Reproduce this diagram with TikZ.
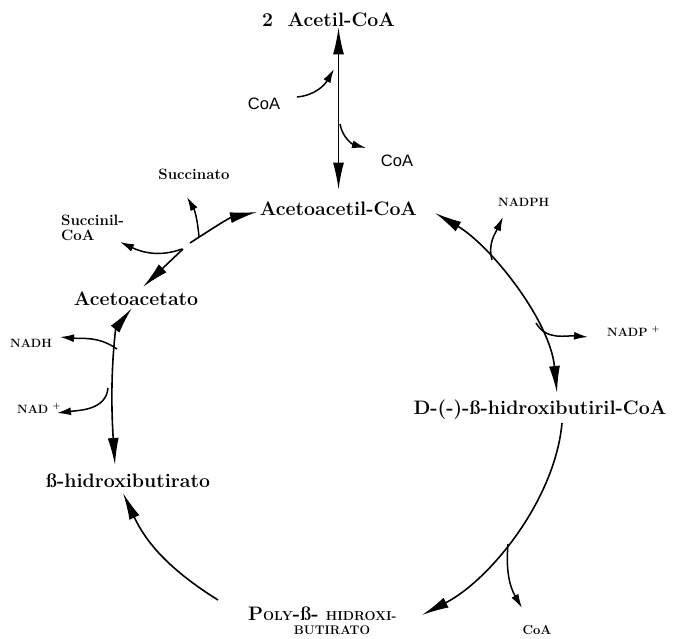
\documentclass[tikz,border=0pt]{standalone}
\usepackage{fontspec}
\newfontfamily\lsans{Liberation Sans}
\usetikzlibrary{arrows.meta}
\begin{document}
\begin{tikzpicture}[x=1pt,y=1pt,
  big/.style={font=\fontsize{19.5}{22}\selectfont\bfseries, inner sep=0pt, anchor=base},
  mid/.style={font=\fontsize{15}{15}\selectfont\bfseries, inner sep=0pt},
  tiny/.style={font=\fontsize{12}{14}\selectfont\bfseries, inner sep=0pt, anchor=base west},
  sans/.style={font=\fontsize{16.5}{18}\selectfont\lsans, inner sep=0pt, anchor=base},
  onearrow/.style={line width=1.6pt, -{Latex[length=27pt,width=11pt]}},
  twoarrow/.style={line width=1.6pt, {Latex[length=27pt,width=11pt]}-{Latex[length=27pt,width=11pt]}},
  sidearrow/.style={line width=1.5pt, -{Latex[length=14pt,width=8pt]}}
]
\useasboundingbox (0,0) rectangle (680,-639);

% ---- labels
\node[big] (acetil) at (328.5,-27) {2~~Acetil-CoA};
\node[big] (acac) at (338.5,-216) {Acetoacetil-CoA};
\node[big] (acetoac) at (136,-305) {Acetoacetato};
\node[big] (bhb) at (128,-487) {ß-hidroxibutirato};
\node[big] (dbhb) at (540,-414) {D-(-)-ß-hidroxibutiril-CoA};
\node[big, anchor=base west] (phb) at (248,-620)
  {P{\fontsize{13}{15}\selectfont OLY}-ß- {\fontsize{13}{15}\selectfont HIDROXI-}};
\node[font=\fontsize{12.5}{14}\selectfont\bfseries, inner sep=0pt, anchor=base] (phbb) at (332,-634) {BUTIRATO};
\node[sans] (coaA) at (264,-110) {CoA};
\node[sans] (coaB) at (397,-167) {CoA};
\node[mid, anchor=base] (succ) at (194,-180) {Succinato};
\node[mid, align=left, anchor=north west] (succoa) at (61,-214.5) {Succinil-\\CoA};
\node[tiny] (nadph) at (498,-207) {NADPH};
\node[tiny] (nadp) at (607,-336) {NADP\hspace{0.35em}\textsuperscript{+}};
\node[tiny] (nadh) at (10,-347) {NADH};
\node[tiny] (nad) at (17,-413) {NAD\hspace{0.35em}\textsuperscript{+}};
\node[font=\fontsize{13}{15}\selectfont\bfseries, inner sep=0pt, anchor=base] (coaC) at (537,-634) {CoA};

% ---- connector end points
\coordinate (c1s) at (297,-97);
\coordinate (c1e) at (334,-69);
\coordinate (c2s) at (340,-124);
\coordinate (c2e) at (366,-148);
\coordinate (la1) at (183,-249);
\coordinate (la2) at (190,-243);
\coordinate (acetoacTip) at (143,-287);
\coordinate (acacTipL) at (257,-212);
\coordinate (sj) at (182,-249);
\coordinate (succoaTip) at (120,-242);
\coordinate (sj2) at (199,-237);
\coordinate (succTip) at (187,-197);
\coordinate (acetoacTipB) at (132,-308);
\coordinate (bhbTipT) at (115,-465);
\coordinate (jnadh) at (117,-349);
\coordinate (nadhTip) at (60,-337);
\coordinate (jnad) at (108,-388);
\coordinate (nadTip) at (57,-413);
\coordinate (phbTail) at (218,-600);
\coordinate (bhbTipB) at (123,-493);
\coordinate (acacTipR) at (435,-213);
\coordinate (dbhbTipT) at (557,-393);
\coordinate (jnadph) at (492,-260);
\coordinate (nadphTip) at (503,-217);
\coordinate (jnadp) at (536,-323);
\coordinate (nadpTip) at (588,-337);
\coordinate (dbhbTail) at (562,-423);
\coordinate (phbTip) at (422,-615);
\coordinate (jcoa) at (508,-544);
\coordinate (coaCTip) at (522,-608);

% ---- Acetil-CoA <-> Acetoacetil-CoA
\draw[twoarrow, shorten <=12.5pt] (acac.north) -- (acac.north |- acetil.south);
\draw[sidearrow] (c1s) to[out=5,in=-120] (c1e);
\draw[sidearrow] (c2s) to[out=-80,in=165] (c2e);

% ---- Acetoacetil-CoA <-> Acetoacetato
\draw[onearrow] (la1) -- (acetoacTip);
\draw[onearrow] (la2) to[out=33,in=192] (acacTipL);
\draw[sidearrow] (sj) to[out=200,in=-25] (succoaTip);
\draw[sidearrow] (sj2) to[out=95,in=-60] (succTip);

% ---- Acetoacetato <-> beta-hidroxibutirato
\draw[twoarrow] (acetoacTipB) .. controls (116,-328) and (109,-375) .. (bhbTipT);
\draw[sidearrow] (jnadh) to[out=145,in=-5] (nadhTip);
\draw[sidearrow] (jnad) to[out=-95,in=7] (nadTip);

% ---- PHB -> beta-hidroxibutirato
\draw[onearrow] (phbTail) to[out=148,in=-65] (bhbTipB);

% ---- Acetoacetil-CoA <-> D-beta-hidroxibutiril-CoA
\draw[twoarrow] (acacTipR) .. controls (490,-245) and (550,-320) .. (dbhbTipT);
\draw[sidearrow] (jnadph) to[out=105,in=-115] (nadphTip);
\draw[sidearrow] (jnadp) to[out=-60,in=175] (nadpTip);

% ---- D-beta-hidroxibutiril-CoA -> PHB
\draw[onearrow] (dbhbTail) .. controls (555,-500) and (490,-580) .. (phbTip);
\draw[sidearrow] (jcoa) to[out=-95,in=120] (coaCTip);
\end{tikzpicture}
\end{document}
